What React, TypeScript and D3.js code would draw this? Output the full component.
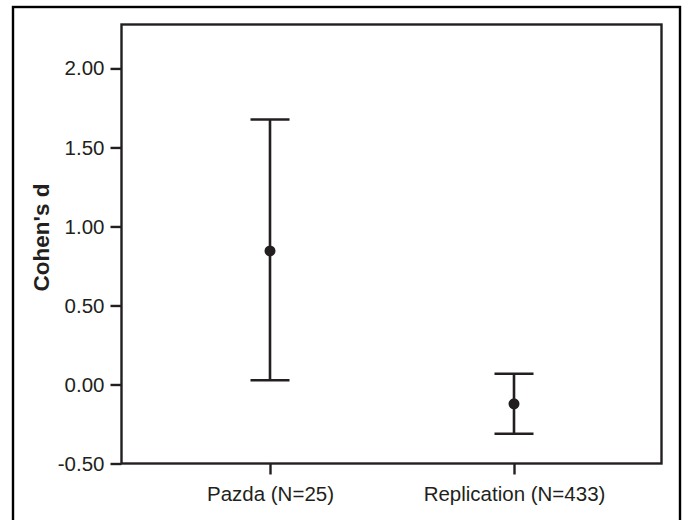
import { useEffect, useRef } from 'react';
import * as d3 from 'd3';

const groups = ['Pazda (N=25)', 'Replication (N=433)'];
const means = [0.845, -0.122];
const lower = [0.027, -0.312];
const upper = [1.677, 0.068];
const yTicks = [-0.5, 0, 0.5, 1, 1.5, 2];

const ink = '#231f20';
const font = 'Liberation Sans, Arial, sans-serif';

const App: React.FC = () => {
    const svgRef = useRef<SVGSVGElement>(null);

    useEffect(() => {
        if (!svgRef.current) return;
        const svg = d3.select(svgRef.current);
        svg.selectAll('*').remove();

        const left = 121.5, right = 661.5, top = 24.5, bottom = 463.5;

        const y = d3.scaleLinear().domain([-0.5, 2.278]).range([bottom, top]);
        const x = d3.scalePoint<string>().domain(groups).range([270, 514]);

        // outer frame (bottom edge runs off the page)
        svg.append('rect')
            .attr('x', 13).attr('y', 7)
            .attr('width', 667).attr('height', 530)
            .attr('fill', 'none').attr('stroke', '#000').attr('stroke-width', 2.4);

        // plot box
        svg.append('rect')
            .attr('x', left).attr('y', top)
            .attr('width', right - left).attr('height', bottom - top)
            .attr('fill', 'none').attr('stroke', ink).attr('stroke-width', 2.4);

        const yAxis = svg.append('g')
            .attr('transform', `translate(${left},0)`)
            .call(d3.axisLeft(y).tickValues(yTicks).tickFormat(d => (d as number).toFixed(2)).tickSize(11).tickPadding(6));
        yAxis.select('.domain').remove();
        yAxis.selectAll('line').attr('stroke', ink).attr('stroke-width', 2.4);
        yAxis.selectAll('text')
            .attr('fill', ink)
            .style('font-family', font)
            .style('font-size', '20.5px');

        const xAxis = svg.append('g')
            .attr('transform', `translate(0,${bottom})`)
            .call(d3.axisBottom(x).tickSize(11).tickPadding(12));
        xAxis.select('.domain').remove();
        xAxis.selectAll('line').attr('stroke', ink).attr('stroke-width', 2.4);
        xAxis.selectAll('text')
            .attr('fill', ink)
            .style('font-family', font)
            .style('font-size', '20.5px');

        svg.append('text')
            .attr('transform', 'translate(49,237.5) rotate(-90)')
            .attr('text-anchor', 'middle')
            .attr('fill', ink)
            .style('font-family', font)
            .style('font-size', '22.5px')
            .style('font-weight', 'bold')
            .text("Cohen's d");

        const capHalf = 19.5;
        const bars = svg.append('g')
            .selectAll('g')
            .data(groups)
            .join('g')
            .attr('stroke', ink)
            .attr('stroke-width', 2.6);

        bars.append('line')
            .attr('x1', d => x(d)!).attr('x2', d => x(d)!)
            .attr('y1', (_, i) => y(upper[i])).attr('y2', (_, i) => y(lower[i]));
        bars.append('line')
            .attr('x1', d => x(d)! - capHalf).attr('x2', d => x(d)! + capHalf)
            .attr('y1', (_, i) => y(upper[i])).attr('y2', (_, i) => y(upper[i]));
        bars.append('line')
            .attr('x1', d => x(d)! - capHalf).attr('x2', d => x(d)! + capHalf)
            .attr('y1', (_, i) => y(lower[i])).attr('y2', (_, i) => y(lower[i]));
        bars.append('circle')
            .attr('cx', d => x(d)!)
            .attr('cy', (_, i) => y(means[i]))
            .attr('r', 5.5)
            .attr('fill', ink)
            .attr('stroke', 'none');
    }, []);

    return (
        <svg ref={svgRef} width={682} height={520}
            style={{ position: 'absolute', left: 0, top: 0, background: '#fff' }} />
    );
};

export default App;
